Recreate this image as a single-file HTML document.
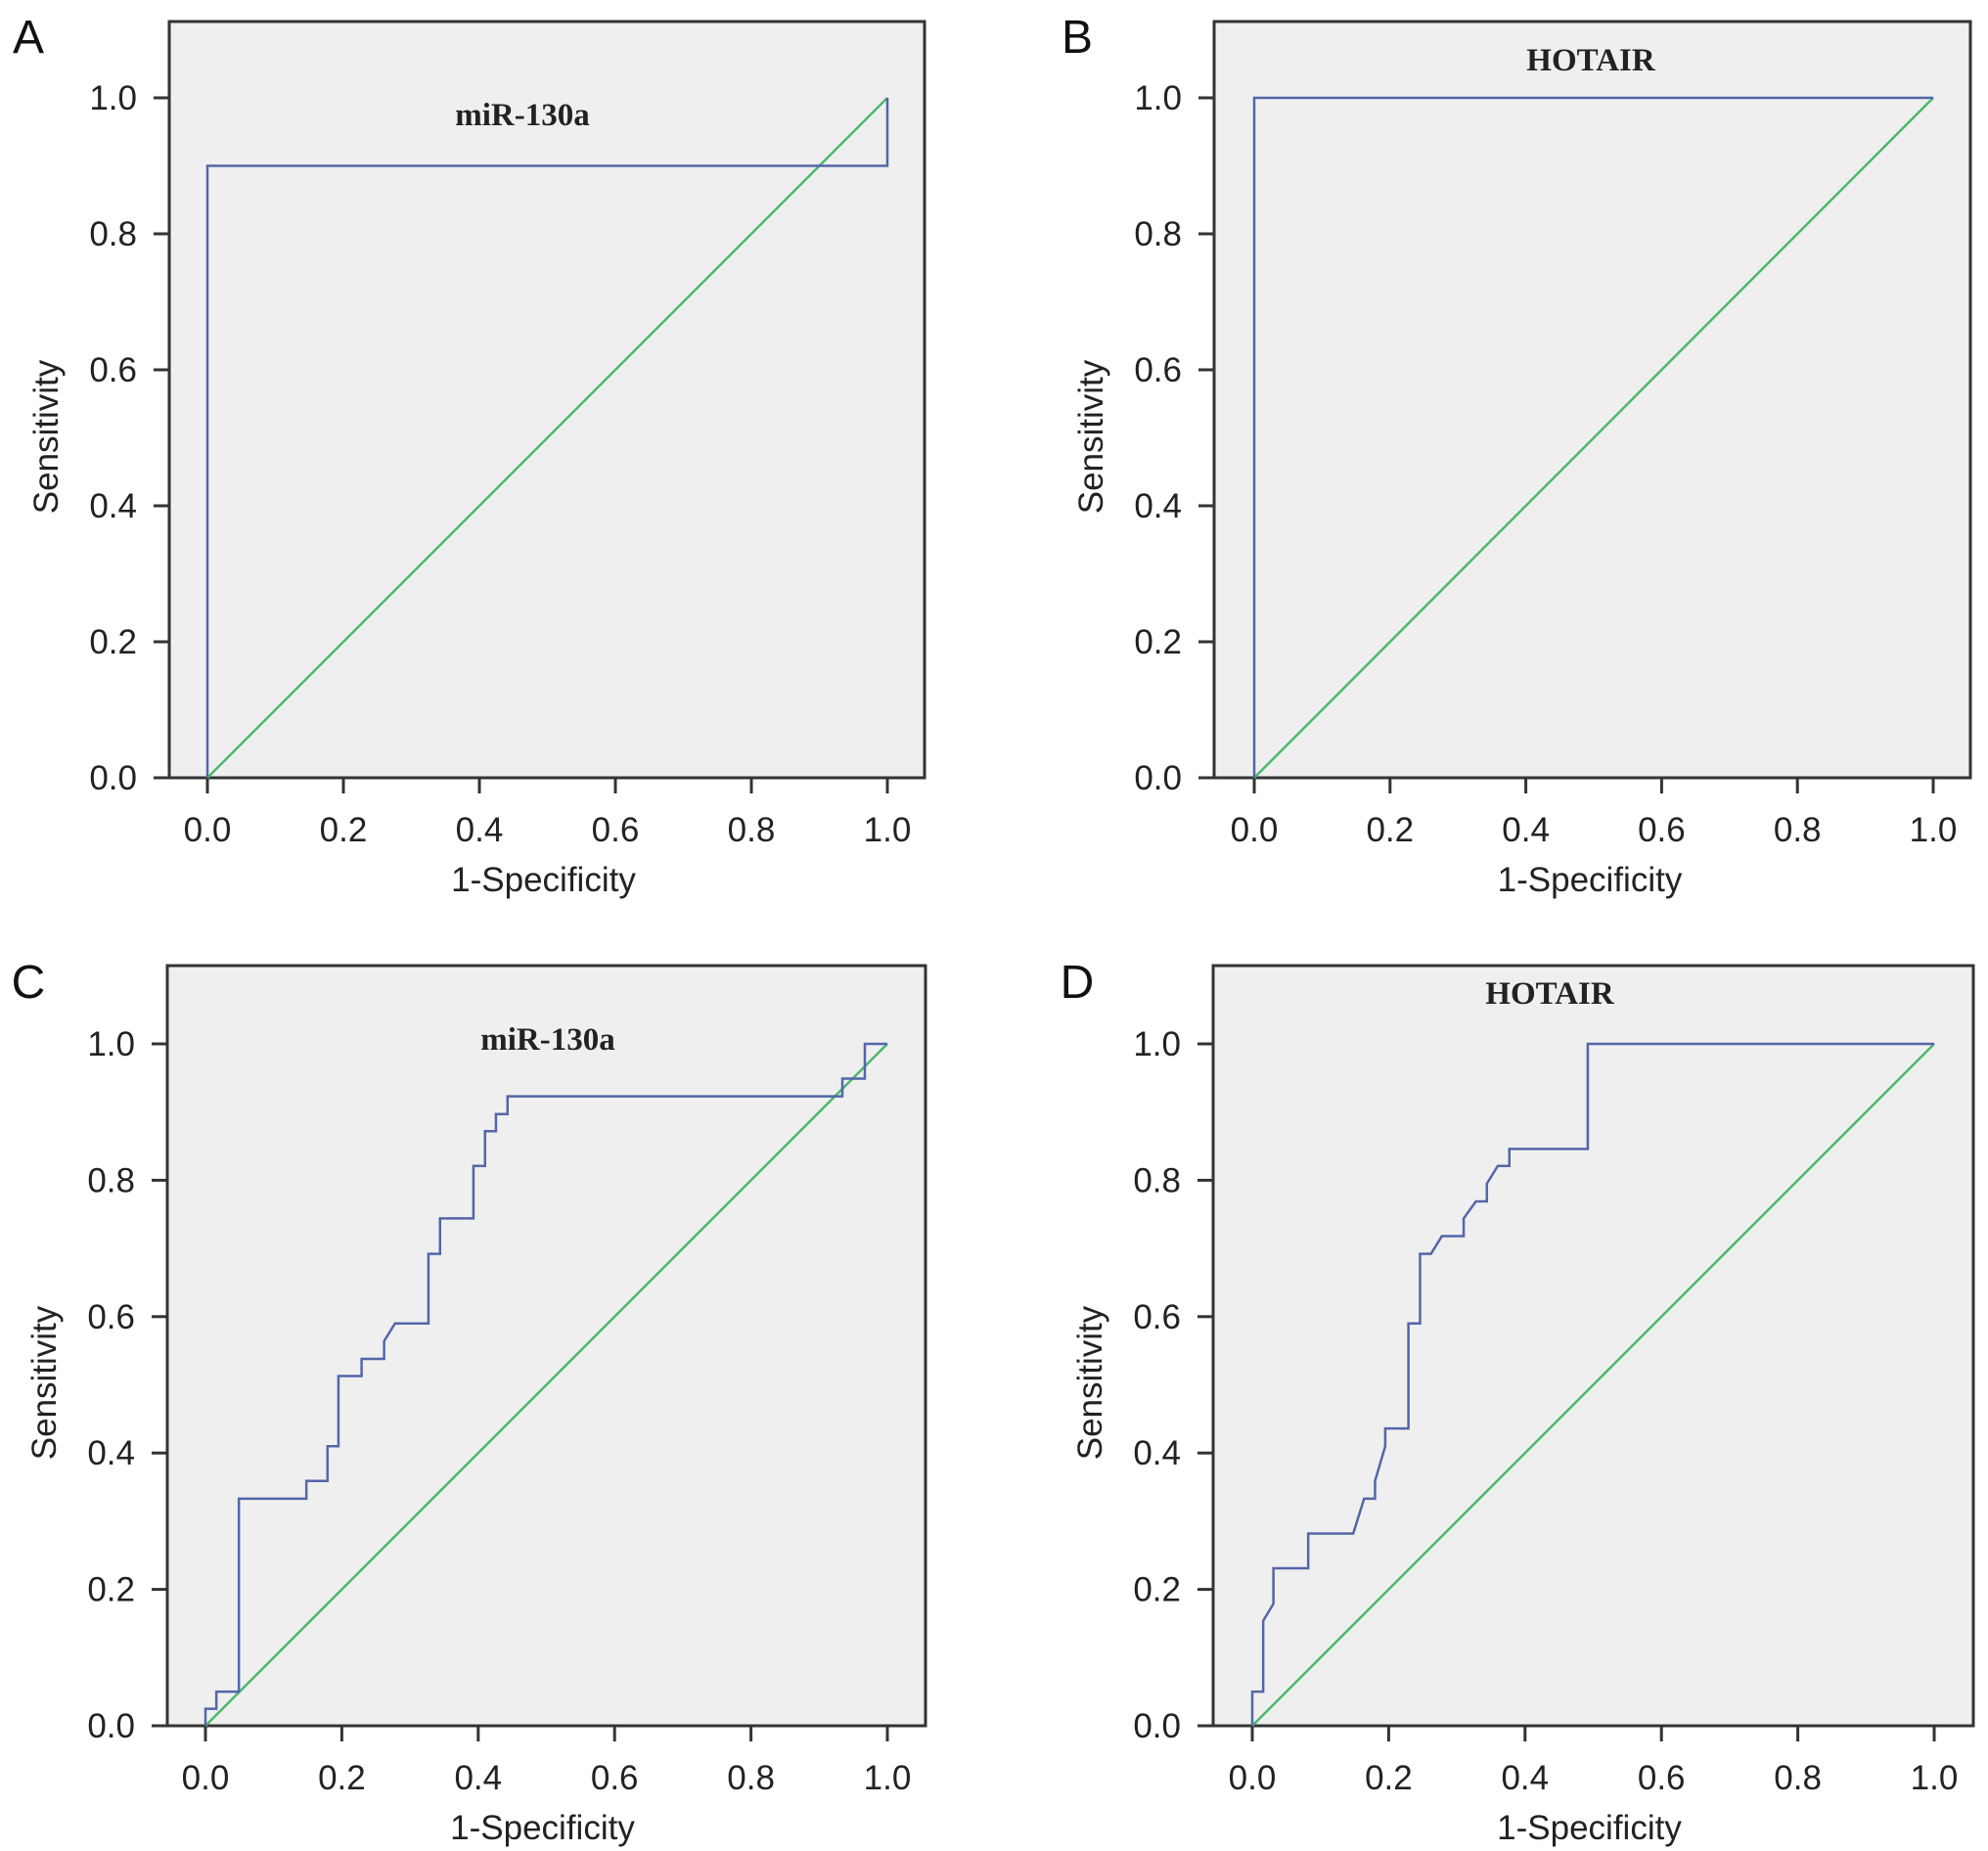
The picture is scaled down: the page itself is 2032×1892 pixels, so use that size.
<!DOCTYPE html>
<html><head><meta charset="utf-8"><style>
html,body{margin:0;padding:0;background:#fff;}
svg{display:block;font-family:"Liberation Sans",sans-serif;}
</style></head><body>
<svg id="fig" width="2032" height="1892" viewBox="0 0 2032 1892" xmlns="http://www.w3.org/2000/svg"></svg>
<script>
const xTicks=[0,0.2,0.4,0.6,0.8,1.0];
const yTicks=[0,0.2,0.4,0.6,0.8,1.0];
const tickLabels=["0.0","0.2","0.4","0.6","0.8","1.0"];
const rocA_x=[0,0,1,1];
const rocA_y=[0,0.9,0.9,1];
const rocB_x=[0,0,1];
const rocB_y=[0,1,1];
const rocC_x=[0,0,0.016,0.016,0.049,0.049,0.148,0.148,0.179,0.179,0.195,0.195,0.229,0.229,0.262,0.262,0.278,0.327,0.327,0.344,0.344,0.393,0.393,0.41,0.41,0.426,0.426,0.443,0.443,0.934,0.934,0.967,0.967,1];
const rocC_y=[0,0.025,0.025,0.05,0.05,0.333,0.333,0.359,0.359,0.41,0.41,0.513,0.513,0.538,0.538,0.564,0.59,0.59,0.692,0.692,0.744,0.744,0.821,0.821,0.872,0.872,0.897,0.897,0.923,0.923,0.949,0.949,1,1];
const rocD_x=[0,0,0.016,0.016,0.031,0.031,0.082,0.082,0.148,0.164,0.18,0.18,0.195,0.195,0.229,0.229,0.246,0.246,0.262,0.278,0.31,0.31,0.328,0.344,0.344,0.36,0.377,0.377,0.492,0.492,1];
const rocD_y=[0,0.05,0.05,0.154,0.179,0.231,0.231,0.282,0.282,0.333,0.333,0.359,0.41,0.436,0.436,0.59,0.59,0.692,0.692,0.718,0.718,0.744,0.769,0.769,0.795,0.821,0.821,0.846,0.846,1,1];
const refX=[0,1];
const refY=[0,1];

const panels=[
 {id:"a",letter:"A",title:"miR-130a",fl:173,ft:22,fr:945,x0:212,x1:907,y0:795,y1:100,lx:29,ly:54,tx:534,ty:128,xs:rocA_x,ys:rocA_y},
 {id:"b",letter:"B",title:"HOTAIR",fl:1241,ft:22,fr:2014,x0:1282,x1:1976,y0:795,y1:100,lx:1101,ly:54,tx:1626,ty:72,xs:rocB_x,ys:rocB_y},
 {id:"c",letter:"C",title:"miR-130a",fl:171,ft:987,fr:946,x0:210,x1:907,y0:1764,y1:1067,lx:29,ly:1020,tx:560,ty:1073,xs:rocC_x,ys:rocC_y},
 {id:"d",letter:"D",title:"HOTAIR",fl:1240,ft:987,fr:2017,x0:1280,x1:1977,y0:1764,y1:1067,lx:1101,ly:1020,tx:1584,ty:1026,xs:rocD_x,ys:rocD_y}
];
const NS="http://www.w3.org/2000/svg";
const svg=document.getElementById('fig');
function mk(tag,attrs,parent){const e=document.createElementNS(NS,tag);for(const k in attrs)e.setAttribute(k,attrs[k]);parent.appendChild(e);return e;}
panels.forEach(p=>{
 const g=mk('g',{},svg);
 
 
 const sx=v=>p.x0+(p.x1-p.x0)*v;
 const sy=v=>p.y0+(p.y1-p.y0)*v;
 const fr=mk('rect',{x:p.fl,y:p.ft,width:p.fr-p.fl,height:p.y0-p.ft,fill:'#efefef',stroke:'#333',"stroke-width":3},g);
 
 
 xTicks.forEach((v,i)=>{
  const t=mk('line',{x1:sx(v),x2:sx(v),y1:p.y0,y2:p.y0+16,stroke:'#333',"stroke-width":3},g);
  
  
  const l=mk('text',{x:sx(v),y:p.y0+65,"text-anchor":"middle","font-size":35,fill:'#222'},g);
  l.textContent=tickLabels[i];
  
  
 });
 yTicks.forEach((v,i)=>{
  const t=mk('line',{x1:p.fl-16,x2:p.fl,y1:sy(v),y2:sy(v),stroke:'#333',"stroke-width":3},g);
  
  
  const l=mk('text',{x:p.fl-33,y:sy(v)+12,"text-anchor":"end","font-size":35,fill:'#222'},g);
  l.textContent=tickLabels[i];
  
  
 });
 const ref=mk('polyline',{points:refX.map((x,i)=>sx(x)+','+sy(refY[i])).join(' '),fill:'none',stroke:'#4cb86c',"stroke-width":2.5},g);
 
 
 const roc=mk('polyline',{points:p.xs.map((x,i)=>sx(x)+','+sy(p.ys[i])).join(' '),fill:'none',stroke:'#5466a8',"stroke-width":2.5},g);
 
 
 const tt=mk('text',{x:p.tx,y:p.ty,"text-anchor":"middle","font-size":33,"font-weight":"bold","font-family":"Liberation Serif, serif",fill:'#222'},g);
 tt.textContent=p.title;
 
 
 const lt=mk('text',{x:p.lx,y:p.ly,"text-anchor":"middle","font-size":48,fill:'#111'},g);
 lt.textContent=p.letter;
 
 
 const xt=mk('text',{x:(p.x0+p.x1)/2-4,y:p.y0+116,"text-anchor":"middle","font-size":35,fill:'#222'},g);
 xt.textContent='1-Specificity';
 
 
 const cy=(p.y0+p.ft)/2+38, cx=p.fl-114;
 const yt=mk('text',{x:cx,y:cy,"text-anchor":"middle","font-size":35,fill:'#222',transform:'rotate(-90 '+cx+' '+cy+')'},g);
 yt.textContent='Sensitivity';
 
 
});
</script>
</body></html>
